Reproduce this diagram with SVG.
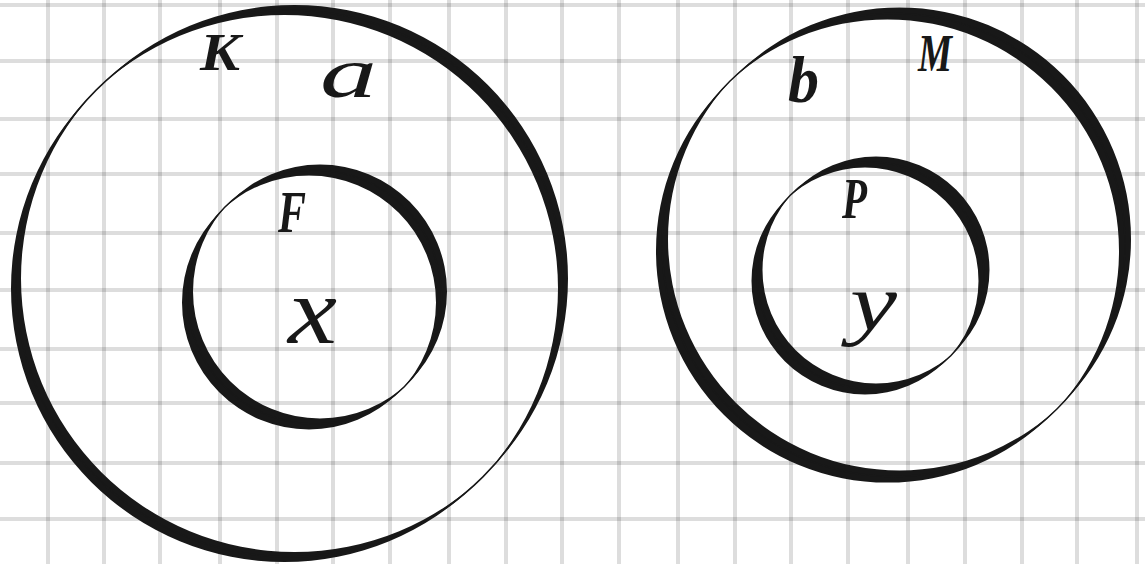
<svg xmlns="http://www.w3.org/2000/svg" width="1145" height="564" viewBox="0 0 1145 564">
<style>
.grid line{stroke:#000;stroke-opacity:0.135;stroke-width:4}
.ink{fill:#181818;fill-rule:evenodd}
.hair{fill:none;stroke:#181818;stroke-width:1.5}
.lbl{font-family:"Liberation Serif","DejaVu Serif",serif;font-style:italic;font-weight:bold;fill:#181818}
.lt{font-weight:normal}
</style>
<rect width="1145" height="564" fill="#fff"/>
<g id="grid" class="grid">
<line x1="48" y1="0" x2="48" y2="564"/>
<line x1="104" y1="0" x2="104" y2="564"/>
<line x1="160" y1="0" x2="160" y2="564"/>
<line x1="220" y1="0" x2="220" y2="564"/>
<line x1="277" y1="0" x2="277" y2="564"/>
<line x1="333" y1="0" x2="333" y2="564"/>
<line x1="390" y1="0" x2="390" y2="564"/>
<line x1="449" y1="0" x2="449" y2="564"/>
<line x1="506" y1="0" x2="506" y2="564"/>
<line x1="562" y1="0" x2="562" y2="564"/>
<line x1="619" y1="0" x2="619" y2="564"/>
<line x1="678" y1="0" x2="678" y2="564"/>
<line x1="735" y1="0" x2="735" y2="564"/>
<line x1="791" y1="0" x2="791" y2="564"/>
<line x1="848" y1="0" x2="848" y2="564"/>
<line x1="908" y1="0" x2="908" y2="564"/>
<line x1="965" y1="0" x2="965" y2="564"/>
<line x1="1022" y1="0" x2="1022" y2="564"/>
<line x1="1077" y1="0" x2="1077" y2="564"/>
<line x1="1137" y1="0" x2="1137" y2="564"/>
<line x1="0" y1="5" x2="1145" y2="5"/>
<line x1="0" y1="61" x2="1145" y2="61"/>
<line x1="0" y1="119" x2="1145" y2="119"/>
<line x1="0" y1="174" x2="1145" y2="174"/>
<line x1="0" y1="233" x2="1145" y2="233"/>
<line x1="0" y1="290" x2="1145" y2="290"/>
<line x1="0" y1="349" x2="1145" y2="349"/>
<line x1="0" y1="403" x2="1145" y2="403"/>
<line x1="0" y1="463" x2="1145" y2="463"/>
<line x1="0" y1="519" x2="1145" y2="519"/>
</g>
<g id="set-K">
<path class="ink" d="M21,278.5a273.5,273.5 0 1,0 547,0a273.5,273.5 0 1,0 -547,0ZM11,288.5a273.5,273.5 0 1,0 547,0a273.5,273.5 0 1,0 -547,0Z"/>
<circle class="hair" cx="289.5" cy="283.5" r="273.5"/>
<text class="lbl" x="200" y="70" font-size="52" textLength="40" lengthAdjust="spacingAndGlyphs">K</text>
<text class="lbl lt" x="320" y="97" font-size="72" textLength="57" lengthAdjust="spacingAndGlyphs">a</text>
</g>
<g id="set-F">
<path class="ink" d="M193,291.5a127,127 0 1,0 254,0a127,127 0 1,0 -254,0ZM182,302.5a127,127 0 1,0 254,0a127,127 0 1,0 -254,0Z"/>
<circle class="hair" cx="314.5" cy="297" r="127"/>
<text class="lbl" x="278" y="232" font-size="60" textLength="28" lengthAdjust="spacingAndGlyphs">F</text>
<text class="lbl lt" x="288" y="343" font-size="95" textLength="49" lengthAdjust="spacingAndGlyphs">x</text>
</g>
<g id="set-M">
<path class="ink" d="M668,239a231.5,231.5 0 1,0 463,0a231.5,231.5 0 1,0 -463,0ZM656,251a231.5,231.5 0 1,0 463,0a231.5,231.5 0 1,0 -463,0Z"/>
<circle class="hair" cx="893.5" cy="245" r="231.5"/>
<text class="lbl" x="788" y="102" font-size="65" textLength="31" lengthAdjust="spacingAndGlyphs">b</text>
<text class="lbl" x="918" y="71" font-size="52" textLength="34" lengthAdjust="spacingAndGlyphs">M</text>
</g>
<g id="set-P">
<path class="ink" d="M762.5,270a113.5,113.5 0 1,0 227,0a113.5,113.5 0 1,0 -227,0ZM751.5,281a113.5,113.5 0 1,0 227,0a113.5,113.5 0 1,0 -227,0Z"/>
<circle class="hair" cx="870.5" cy="275.5" r="113.5"/>
<text class="lbl" x="842" y="218" font-size="58" textLength="25" lengthAdjust="spacingAndGlyphs">P</text>
<text class="lbl lt" x="850" y="330" font-size="80" textLength="47" lengthAdjust="spacingAndGlyphs">y</text>
</g>
</svg>
